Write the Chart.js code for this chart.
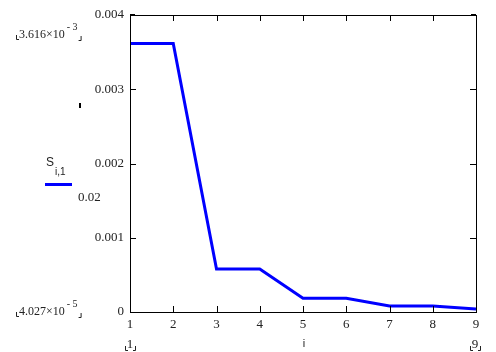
<!DOCTYPE html>
<html><head><meta charset="utf-8">
<script src="https://cdn.jsdelivr.net/npm/chart.js@4/dist/chart.umd.min.js"></script>
<style>html,body{margin:0;padding:0;background:#fff}#w{width:496px;height:352px}</style>
</head><body><div id="w"><canvas id="c" width="496" height="352"></canvas></div>
<script>
const categories = [1, 2, 3, 4, 5, 6, 7, 8, 9];
const sValues = [0.003616, 0.003616, 0.000579, 0.000579, 0.000185, 0.000185, 0.000081, 0.000081, 0.00004027];
const yTicks = [0, 0.001, 0.002, 0.003, 0.004];
const yTickLabels = ['0', '0.001', '0.002', '0.003', '0.004'];
const xTicks = categories;

const FONT = '13px "Liberation Serif", "Times New Roman", serif';
const TXT = '#222';

const frame = {
  id: 'frame',
  afterDatasetsDraw(chart) {
    const ctx = chart.ctx, a = chart.chartArea;
    const xs = chart.scales.x, ys = chart.scales.y;
    ctx.save();
    ctx.strokeStyle = '#000'; ctx.lineWidth = 1;
    ctx.strokeRect(Math.round(a.left) + 0.5, Math.round(a.top) + 0.5, Math.round(a.right - a.left), Math.round(a.bottom - a.top));
    ctx.beginPath();
    xTicks.forEach(v => {
      if (v === xTicks[0] || v === xTicks[xTicks.length - 1]) return;
      const px = Math.round(xs.getPixelForValue(v)) + 0.5;
      ctx.moveTo(px, a.bottom); ctx.lineTo(px, a.bottom - 6);
      ctx.moveTo(px, a.top); ctx.lineTo(px, a.top + 6);
    });
    yTicks.forEach((v, i) => {
      if (i === 0 || i === yTicks.length - 1) return;
      const py = Math.round(ys.getPixelForValue(v)) + 0.5;
      ctx.moveTo(a.left, py); ctx.lineTo(a.left + 6, py);
      ctx.moveTo(a.right, py); ctx.lineTo(a.right - 6, py);
    });
    ctx.stroke();
    ctx.fillStyle = '#000';
    ctx.fillRect(a.left, a.top - 1, 5, 2);
    ctx.fillRect(a.right - 5, a.top - 1, 5, 2);
    ctx.restore();
  },
  afterDraw(chart) {
    const ctx = chart.ctx;
    ctx.save();
    ctx.fillStyle = TXT; ctx.strokeStyle = '#222'; ctx.lineWidth = 1;
    ctx.font = FONT; ctx.textBaseline = 'alphabetic';
    function bracketL(x, y) { ctx.beginPath(); ctx.moveTo(x + 0.5, y - 4); ctx.lineTo(x + 0.5, y + 0.5); ctx.lineTo(x + 3, y + 0.5); ctx.stroke(); }
    function bracketR(x, y) { ctx.beginPath(); ctx.moveTo(x - 2, y + 0.5); ctx.lineTo(x + 0.5, y + 0.5); ctx.lineTo(x + 0.5, y - 4); ctx.stroke(); }
    function sci(x, y, mant, exp) {
      ctx.font = '12px "Liberation Serif", serif'; ctx.textAlign = 'left';
      ctx.save(); ctx.translate(x, y); ctx.scale(1, 1.12);
      ctx.fillText(mant + '\u00d710', 0, 0);
      ctx.restore();
      const w = ctx.measureText(mant + '\u00d710').width;
      ctx.font = '10px "Liberation Serif", serif';
      ctx.fillText('- ' + exp, x + w + 2, y - 8);
      const w2 = ctx.measureText('- ' + exp).width;
      bracketL(x - 3, y + 1);
      bracketR(x + w + w2 + 5, y + 2);
    }
    sci(19, 38, '3.616', '3');
    sci(19, 315, '4.027', '5');
    ctx.font = FONT; ctx.textAlign = 'center';
    ctx.fillText('1', 130, 348);
    bracketL(125, 350); bracketR(135, 350);
    ctx.fillText('9', 475, 348);
    bracketL(470, 350); bracketR(480, 350);
    ctx.font = '11px "Liberation Sans", Arial, sans-serif';
    ctx.fillText('i', 304, 347);
    ctx.textAlign = 'left';
    ctx.font = '12px "Liberation Sans", Arial, sans-serif';
    ctx.fillText('S', 46, 166);
    ctx.font = '10px "Liberation Sans", Arial, sans-serif';
    ctx.fillText('i,1', 55, 175);
    ctx.strokeStyle = '#0000ff'; ctx.lineWidth = 3;
    ctx.beginPath(); ctx.moveTo(45, 184.5); ctx.lineTo(72, 184.5); ctx.stroke();
    ctx.font = FONT; ctx.fillStyle = TXT;
    ctx.fillText('0.02', 78, 201);
    ctx.fillStyle = '#000';
    ctx.fillRect(79, 103, 2, 5);
    ctx.restore();
  }
};

new Chart(document.getElementById('c'), {
  type: 'line',
  data: {
    datasets: [{
      data: categories.map((c, i) => ({ x: c, y: sValues[i] })),
      borderColor: '#0000ff',
      borderWidth: 3,
      pointRadius: 0,
      tension: 0,
      fill: false
    }]
  },
  options: {
    responsive: false,
    animation: false,
    layout: { padding: { left: 0, right: 20, top: 15, bottom: 0 } },
    plugins: { legend: { display: false }, tooltip: { enabled: false } },
    scales: {
      x: {
        type: 'linear', min: 1, max: 9,
        grid: { display: false, drawTicks: false },
        border: { display: false },
        afterBuildTicks(s) { s.ticks = xTicks.map(v => ({ value: v })); },
        afterFit(s) { s.height = 40; },
        ticks: { padding: 5, color: TXT, font: { family: '"Liberation Serif", serif', size: 13 }, maxRotation: 0, callback: v => String(v) }
      },
      y: {
        min: 0, max: 0.004,
        grid: { display: false, drawTicks: false },
        border: { display: false },
        afterBuildTicks(s) { s.ticks = yTicks.map(v => ({ value: v })); },
        afterFit(s) { s.width = 130; },
        ticks: { padding: 6, color: TXT, font: { family: '"Liberation Serif", serif', size: 13 }, callback: (v) => { const i = yTicks.indexOf(v); return i >= 0 ? yTickLabels[i] : ''; } }
      }
    }
  },
  plugins: [frame]
});
</script></body></html>
